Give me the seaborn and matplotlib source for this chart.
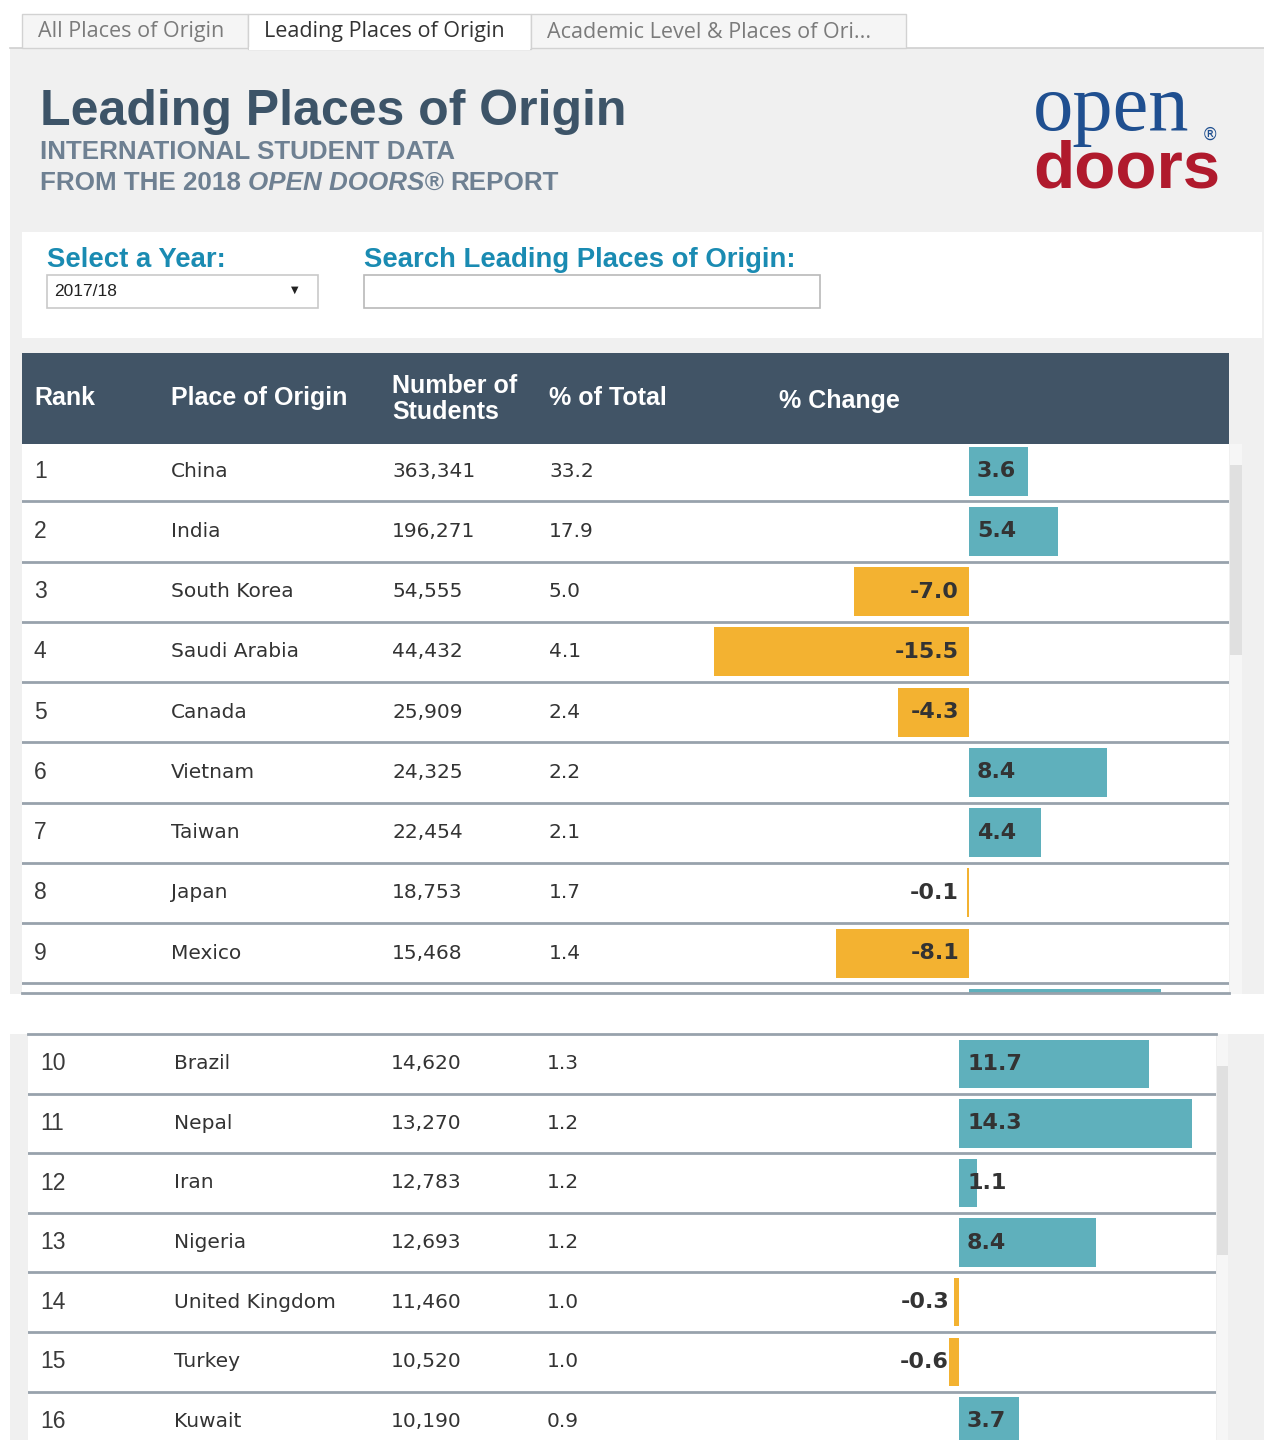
import matplotlib
matplotlib.use("Agg")
import matplotlib.pyplot as plt
import matplotlib.transforms as mtransforms
from matplotlib.patches import Rectangle
import pandas as pd
import seaborn as sns

# --- data ---
ranks = list(range(1, 17))
places = ["China", "India", "South Korea", "Saudi Arabia", "Canada", "Vietnam",
          "Taiwan", "Japan", "Mexico", "Brazil", "Nepal", "Iran", "Nigeria",
          "United Kingdom", "Turkey", "Kuwait"]
students = [363341, 196271, 54555, 44432, 25909, 24325, 22454, 18753, 15468,
            14620, 13270, 12783, 12693, 11460, 10520, 10190]
pct_total = [33.2, 17.9, 5.0, 4.1, 2.4, 2.2, 2.1, 1.7, 1.4, 1.3, 1.2, 1.2, 1.2,
             1.0, 1.0, 0.9]
pct_change = [3.6, 5.4, -7.0, -15.5, -4.3, 8.4, 4.4, -0.1, -8.1, 11.7, 14.3, 1.1,
              8.4, -0.3, -0.6, 3.7]

tab_labels = ["All Places of Origin", "Leading Places of Origin",
              "Academic Level & Places of Ori..."]
header_labels = ["Rank", "Place of Origin", "Number of\nStudents", "% of Total", "% Change"]
year_choice = "2017/18"

df = pd.DataFrame({
    "rank": ranks,
    "place": places,
    "students": students,
    "pct_total": pct_total,
    "change": pct_change,
})
df["direction"] = ["up" if v >= 0 else "down" for v in df["change"]]

TEAL = "#5fb0bc"
ORANGE = "#f3b231"
SLATE = "#415466"
TXT = "#333333"
LINE = "#98a2ac"

W, H = 1264, 1440
fig = plt.figure(figsize=(W / 100, H / 100), dpi=100)
bg = fig.add_axes([0, 0, 1, 1])
bg.set_xlim(0, W)
bg.set_ylim(H, 0)
bg.axis("off")


def box(x0, y0, x1, y1, fc, ec="none", lw=0, z=1):
    bg.add_patch(Rectangle((x0, y0), x1 - x0, y1 - y0, facecolor=fc,
                           edgecolor=ec, linewidth=lw, zorder=z))


# background panels
box(10, 48, W, 994, "#f0f0f0")
box(10, 1034, W, H, "#f0f0f0")

# tabs
tab_x = [(22, 248), (248, 531), (531, 906)]
bg.plot([10, W], [48, 48], color="#cfcfcf", lw=1.2, zorder=2)
for i, ((x0, x1), lab) in enumerate(zip(tab_x, tab_labels)):
    active = i == 1
    box(x0, 14, x1, 48.6 if active else 48, "white" if active else "#f5f5f5",
        ec="#d2d2d2", lw=1, z=3)
    if active:
        box(x0 + 1, 47, x1 - 1, 50, "white", z=4)
    bg.text(x0 + 16, 32, lab, fontsize=15.5, family="Open Sans",
            color="#333333" if active else "#7b7b7b", va="center", zorder=5)

# title block
bg.text(40, 125, "Leading Places of Origin", fontsize=36, fontweight="bold",
        family="Liberation Sans", color="#3d5468", va="baseline")
SUB = "#6e8092"
bg.text(40, 159, "INTERNATIONAL STUDENT DATA", fontsize=18.7, fontweight="bold",
        family="Liberation Sans", color=SUB, va="baseline")
r = fig.canvas.get_renderer()
xx = 40
for s, st in [("FROM THE 2018", "normal"), ("OPEN DOORS®", "italic"), ("REPORT", "normal")]:
    t = bg.text(xx, 190, s, fontsize=18.7, fontweight="bold", fontstyle=st,
                family="Liberation Sans", color=SUB, va="baseline")
    xx += t.get_window_extent(r).width + 7

# logo
bg.text(1033, 130, "open", fontsize=58, family="Liberation Serif",
        color="#1f4f90", va="baseline")
bg.text(1033, 187, "doors", fontsize=48.5, fontweight="bold",
        family="Liberation Sans", color="#b01a2d", va="baseline")
bg.text(1210, 135, "®", fontsize=12, family="DejaVu Sans", color="#1f4f90",
        ha="center", va="center")

# filter panel
box(22, 232, 1262, 338, "white")
FILT = "#1a8bb2"
bg.text(47, 267, "Select a Year:", fontsize=19.8, fontweight="bold",
        family="Liberation Sans", color=FILT, va="baseline")
bg.text(364, 267, "Search Leading Places of Origin:", fontsize=19.8,
        fontweight="bold", family="Liberation Sans", color=FILT, va="baseline")
box(47, 275, 318, 308, "white", ec="#c9c9c9", lw=1.2, z=2)
bg.text(54, 292, year_choice, fontsize=12.5, family="Liberation Sans",
        color="#222222", va="center")
bg.text(295, 290, "▼", fontsize=7, color="#222222", ha="center", va="center")
box(364, 275, 820, 308, "white", ec="#b9b9b9", lw=1.2, z=2)

# table header
box(22, 353, 1229, 444, SLATE)
head_x = [34, 171, 392, 549, 779]
head_y = [398, 398, 399, 398, 401]
for hx, hy, lab in zip(head_x, head_y, header_labels):
    bg.text(hx, hy, lab, fontsize=18, fontweight="bold", family="Liberation Sans",
            color="white", va="center", linespacing=1.12)

# scrollbars
box(1230, 444, 1242, 994, "#f6f6f6")
box(1230, 465, 1242, 655, "#e0e0e0", z=2)
box(1217, 1034, 1228, H, "#f6f6f6")
box(1217, 1066, 1228, 1255, "#e0e0e0", z=2)


def panel(rows, text_rows, rect, zero_px, scale, y_top, pitch, first_rank,
          col_x, top_line):
    x0, y0, x1, y1 = rect
    ax = fig.add_axes([x0 / W, 1 - y1 / H, (x1 - x0) / W, (y1 - y0) / H])
    ax.set_zorder(5)
    ax.set_facecolor("white")
    sns.barplot(data=rows, x="change", y="rank", hue="direction",
                hue_order=["up", "down"], palette={"up": TEAL, "down": ORANGE},
                orient="h", native_scale=True, width=0.81, dodge=False,
                errorbar=None, saturation=1, linewidth=0, legend=False, ax=ax)
    ax.set_xlim((x0 - zero_px) / scale, (x1 - zero_px) / scale)
    lo = first_rank - 0.5 + (y0 - y_top) / pitch
    hi = first_rank - 0.5 + (y1 - y_top) / pitch
    ax.set_ylim(hi, lo)
    ax.set_xticks([])
    ax.set_yticks([])
    ax.set_xlabel("")
    ax.set_ylabel("")
    for sp in ax.spines.values():
        sp.set_visible(False)
    for b in rows["rank"]:
        ax.axhline(b + 0.5, color=LINE, lw=2, zorder=3)
    edge = "top" if top_line else "bottom"
    ax.spines[edge].set_visible(True)
    ax.spines[edge].set_color(LINE)
    ax.spines[edge].set_linewidth(2)

    tr = mtransforms.blended_transform_factory(bg.transData, ax.transData)
    for _, row in text_rows.iterrows():
        y = row["rank"]
        ax.text(col_x[0], y, str(row["rank"]), transform=tr, fontsize=16.5,
                family="Liberation Sans", color="#3a3a3a", va="center")
        ax.text(col_x[1], y, row["place"], transform=tr, fontsize=14.5,
                color=TXT, va="center")
        ax.text(col_x[2], y, f"{row['students']:,}", transform=tr, fontsize=14.5,
                color=TXT, va="center")
        ax.text(col_x[3], y, f"{row['pct_total']:.1f}", transform=tr, fontsize=14.5,
                color=TXT, va="center")
        v = row["change"]
        if v >= 0:
            ax.text(8 / scale, y, f"{v:.1f}", fontsize=16, fontweight="bold",
                    color="#333333", ha="left", va="center", zorder=4)
        else:
            ax.text(-10 / scale, y, f"{v:.1f}", fontsize=16, fontweight="bold",
                    color="#333333", ha="right", va="center", zorder=4)
    return ax


top_rows = df[df["rank"] <= 10]
bottom_rows = df[df["rank"] >= 10]
panel(top_rows, df[df["rank"] <= 9], (22, 444, 1229, 993), zero_px=969,
      scale=16.45, y_top=441, pitch=60.25, first_rank=1,
      col_x=[34, 171, 392, 549], top_line=False)
panel(bottom_rows, bottom_rows, (28, 1034, 1216, H), zero_px=959, scale=16.28,
      y_top=1034, pitch=59.6, first_rank=10, col_x=[40, 174, 391, 547],
      top_line=True)

fig.savefig("out.png", dpi=100)
